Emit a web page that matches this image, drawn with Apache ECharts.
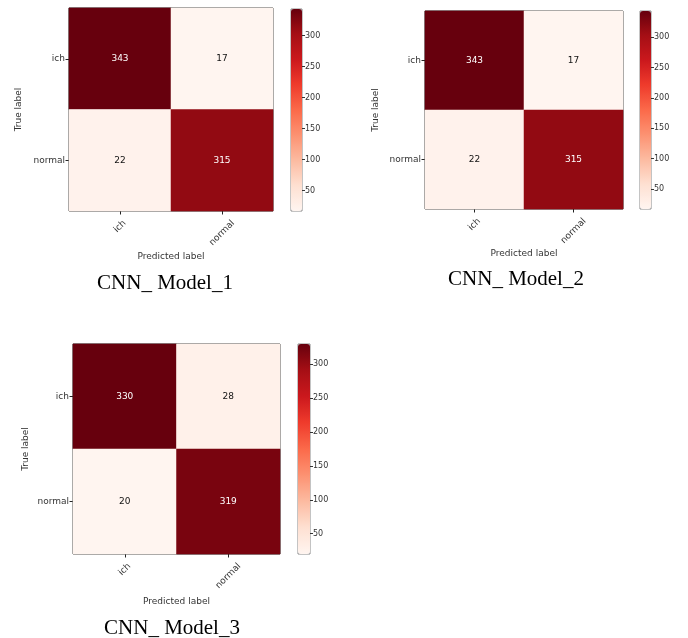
<!DOCTYPE html>
<html><head><meta charset="utf-8">
<script src="https://cdn.jsdelivr.net/npm/echarts@6/dist/echarts.min.js"></script>
<style>html,body{margin:0;padding:0;background:#fff}#c{width:688px;height:638px}</style>
</head><body><div id="c"></div>
<script>
// ---- data ----
const classes = ['ich', 'normal'];
const model1 = [[343, 17], [22, 315]];
const model2 = [[343, 17], [22, 315]];
const model3 = [[330, 28], [20, 319]];
const captions = ['CNN_ Model_1', 'CNN_ Model_2', 'CNN_ Model_3'];
const colorbarTicks = [50, 100, 150, 200, 250, 300];
const axisTitleX = 'Predicted label';
const axisTitleY = 'True label';

// ---- style / layout ----
const reds = ['#fff5f0','#fee0d2','#fcbba1','#fc9272','#fb6a4a','#ef3b2c','#cb181d','#a50f15','#67000d'];
const FONT = 'DejaVu Sans';
const LABEL_SIZE = 9;
const panels = [
  {m: model1, grid: {left: 69, top: 8, width: 204, height: 203}, cb: {left: 291, top: 9, width: 11, height: 202}, yGap: 46, xGap: 41, cap: [165, 283]},
  {m: model2, grid: {left: 425, top: 11, width: 198, height: 198}, cb: {left: 640, top: 11, width: 11, height: 198}, yGap: 45, xGap: 40, cap: [516, 279]},
  {m: model3, grid: {left: 73, top: 344, width: 207, height: 210}, cb: {left: 298, top: 344, width: 12, height: 210}, yGap: 43, xGap: 43, cap: [172, 628]}
];

// rotated x tick labels centred under the tick (matplotlib style rotation=45)
const measureCtx = document.createElement('canvas').getContext('2d');
measureCtx.font = LABEL_SIZE + 'px "' + FONT + '"';
const LABEL_MARGIN = 2;
function xCategoryData() {
  return classes.map(name => {
    const w = measureCtx.measureText(name).width;
    const D = 7 + (w + 10.5) * 0.354 - LABEL_MARGIN;
    const pt = Math.max(0, 0.707 * D - LABEL_SIZE / 2);
    const pr = 1.414 * D;
    return {value: name, textStyle: {
      align: 'center', verticalAlign: 'top', padding: [pt, pr, 0, 0],
      fontSize: LABEL_SIZE, fontFamily: FONT, color: '#333'
    }};
  });
}

const grids = [], xAxes = [], yAxes = [], series = [], visualMaps = [], graphics = [];
panels.forEach((p, i) => {
  const flat = p.m.flat();
  const vmin = Math.min(...flat), vmax = Math.max(...flat);
  const data = [];
  p.m.forEach((row, r) => row.forEach((v, c) => {
    data.push({value: [c, r, v], label: {color: v > vmax / 2 ? '#ffffff' : '#111111'}});
  }));
  grids.push(Object.assign({show: true, borderColor: '#222', borderWidth: 1, backgroundColor: 'transparent'}, p.grid));
  const gi = grids.length - 1;
  xAxes.push({
    type: 'category', gridIndex: gi, data: xCategoryData(),
    axisLine: {show: false},
    axisTick: {show: true, alignWithLabel: true, length: 3.5, lineStyle: {color: '#222'}},
    axisLabel: {rotate: 45, interval: 0, align: 'center', verticalAlign: 'top', fontSize: LABEL_SIZE, fontFamily: FONT, color: '#333', margin: LABEL_MARGIN, hideOverlap: false},
    splitLine: {show: false},
    name: axisTitleX, nameLocation: 'middle', nameGap: p.xGap, nameMoveOverlap: false,
    nameTextStyle: {fontSize: 9, fontFamily: FONT, color: '#333'}
  });
  yAxes.push({
    type: 'category', gridIndex: gi, data: classes, inverse: true,
    axisLine: {show: false},
    axisTick: {show: true, alignWithLabel: true, length: 3.5, lineStyle: {color: '#222'}},
    axisLabel: {fontSize: LABEL_SIZE, fontFamily: FONT, color: '#333', margin: 4},
    splitLine: {show: false},
    name: axisTitleY, nameLocation: 'middle', nameGap: p.yGap, nameRotate: 90, nameMoveOverlap: false,
    nameTextStyle: {fontSize: 9, fontFamily: FONT, color: '#333'}
  });
  series.push({
    type: 'heatmap', xAxisIndex: xAxes.length - 1, yAxisIndex: yAxes.length - 1,
    data: data,
    label: {show: true, fontSize: 9, fontFamily: FONT},
    itemStyle: {borderWidth: 0},
    emphasis: {disabled: true}
  });
  visualMaps.push({
    type: 'continuous', min: vmin, max: vmax, seriesIndex: series.length - 1,
    inRange: {color: reds}, calculable: false, orient: 'vertical',
    left: p.cb.left, top: p.cb.top, itemWidth: p.cb.width, itemHeight: p.cb.height,
    padding: 0, hoverLink: false
  });
  grids.push(Object.assign({show: true, borderColor: '#888', borderWidth: 1, backgroundColor: 'transparent'}, p.cb));
  const ci = grids.length - 1;
  xAxes.push({type: 'category', gridIndex: ci, data: [''], show: false});
  yAxes.push({
    type: 'value', gridIndex: ci, position: 'right', min: vmin, max: vmax,
    axisLine: {show: false},
    axisTick: {show: true, length: 3, lineStyle: {color: '#333'}, customValues: colorbarTicks},
    axisLabel: {fontSize: 8, fontFamily: FONT, color: '#333', margin: 3, customValues: colorbarTicks},
    splitLine: {show: false}
  });
  graphics.push({
    type: 'text', x: p.cap[0], y: p.cap[1],
    style: {text: captions[i], fontSize: 21, fontFamily: 'Liberation Serif', fill: '#000', align: 'center', verticalAlign: 'middle'}
  });
});

const chart = echarts.init(document.getElementById('c'));
chart.setOption({
  animation: false,
  backgroundColor: '#fff',
  grid: grids, xAxis: xAxes, yAxis: yAxes, series: series,
  visualMap: visualMaps, graphic: graphics
});
</script></body></html>
